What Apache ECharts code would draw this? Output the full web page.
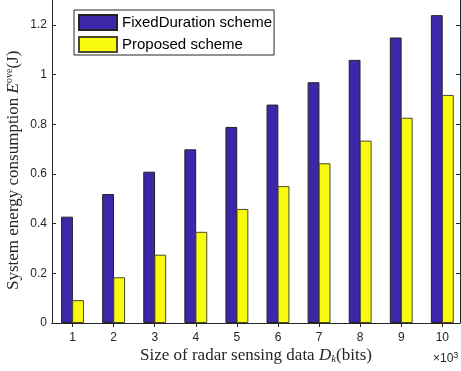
<!DOCTYPE html>
<html><head><meta charset="utf-8">
<script src="https://cdn.jsdelivr.net/npm/echarts@6/dist/echarts.min.js"></script>
<style>html,body{margin:0;padding:0;background:#fff}#c{width:461px;height:371px}</style>
</head><body><div id="c"></div>
<script>
const categories = [1,2,3,4,5,6,7,8,9,10];
const fixedDuration = [0.428, 0.519, 0.609, 0.699, 0.789, 0.879, 0.969, 1.059, 1.149, 1.239];
const proposed = [0.092, 0.184, 0.275, 0.367, 0.459, 0.551, 0.643, 0.734, 0.826, 0.918];
const yTicks = [0, 0.2, 0.4, 0.6, 0.8, 1, 1.2];
const seriesNames = ['FixedDuration scheme', 'Proposed scheme'];

const axisColor = '#262626';
const sans = 'Liberation Sans';
const serif = 'Liberation Serif';

const chart = echarts.init(document.getElementById('c'), null, {renderer: 'canvas'});
const xBase = {
  type: 'value', min: 0.5, max: 10.43,
  axisLine: {show: true, lineStyle: {color: axisColor, width: 1}},
  splitLine: {show: false}
};
const yBase = {
  type: 'value', min: 0, max: 1.3,
  axisLine: {show: true, lineStyle: {color: axisColor, width: 1}},
  splitLine: {show: false}
};
chart.setOption({
  animation: false,
  grid: {left: 52, top: 0, width: 408, bottom: 48, containLabel: false},
  legend: {
    data: seriesNames, orient: 'vertical', left: 74, top: 10,
    icon: 'rect', itemWidth: 38, itemHeight: 15, itemGap: 5,
    padding: [4, 2, 2, 4], borderColor: axisColor, borderWidth: 1, backgroundColor: '#fff',
    textStyle: {fontFamily: sans, fontSize: 15, lineHeight: 15, color: '#000'}
  },
  xAxis: [
    Object.assign({}, xBase, {
      position: 'bottom',
      axisTick: {show: true, inside: true, length: 4, customValues: categories, lineStyle: {color: axisColor}},
      axisLabel: {show: true, customValues: categories, margin: 9, fontFamily: sans, fontSize: 12, color: axisColor,
        formatter: v => String(v)}
    }),
    Object.assign({}, xBase, {
      position: 'top',
      axisTick: {show: true, inside: true, length: 4, customValues: categories, lineStyle: {color: axisColor}},
      axisLabel: {show: false}
    })
  ],
  yAxis: [
    Object.assign({}, yBase, {
      position: 'left',
      axisTick: {show: true, inside: true, length: 4, customValues: yTicks, lineStyle: {color: axisColor}},
      axisLabel: {show: true, customValues: yTicks, margin: 5, fontFamily: sans, fontSize: 12, color: axisColor,
        formatter: v => String(Math.round(v * 10) / 10)}
    }),
    Object.assign({}, yBase, {
      position: 'right',
      axisTick: {show: true, inside: true, length: 4, customValues: yTicks, lineStyle: {color: axisColor}},
      axisLabel: {show: false}
    })
  ],
  series: [
    {
      name: seriesNames[0], type: 'bar', xAxisIndex: 0, yAxisIndex: 0,
      data: categories.map((c, i) => [c, fixedDuration[i]]),
      barWidth: 11.8, barGap: '-6%',
      itemStyle: {color: '#3D26A8', borderColor: '#222', borderWidth: 1}
    },
    {
      name: seriesNames[1], type: 'bar', xAxisIndex: 0, yAxisIndex: 0,
      data: categories.map((c, i) => [c, proposed[i]]),
      barWidth: 11.8, barGap: '-6%',
      itemStyle: {color: '#F9FB0E', borderColor: '#4a4a30', borderWidth: 1}
    }
  ],
  graphic: [
    {
      type: 'text', x: 140, y: 347,
      style: {
        text: '{n|Size of radar sensing data }{i|D}{s|k}{n|(bits)}',
        rich: {
          n: {fontFamily: serif, fontSize: 17, fill: axisColor},
          i: {fontFamily: serif, fontSize: 17, fontStyle: 'italic', fill: axisColor},
          s: {fontFamily: serif, fontSize: 11, fontStyle: 'italic', fill: axisColor, padding: [7, 0, 0, 0]}
        }
      }
    },
    {
      type: 'text', rotation: Math.PI / 2, x: 4, y: 290,
      style: {
        text: '{n|System energy consumption }{i|E}{s|ove}{n|(J)}',
        verticalAlign: 'top', align: 'left',
        rich: {
          n: {fontFamily: serif, fontSize: 17, fill: axisColor},
          i: {fontFamily: serif, fontSize: 17, fontStyle: 'italic', fill: axisColor},
          s: {fontFamily: serif, fontSize: 10, fill: axisColor, padding: [0, 0, 10, 0]}
        }
      }
    },
    {
      type: 'text', x: 433, y: 351,
      style: {
        text: '{n|×10}{s|3}',
        rich: {
          n: {fontFamily: sans, fontSize: 12, fill: axisColor},
          s: {fontFamily: sans, fontSize: 9, fill: axisColor, padding: [0, 0, 7, 0]}
        }
      }
    }
  ]
});
</script></body></html>
